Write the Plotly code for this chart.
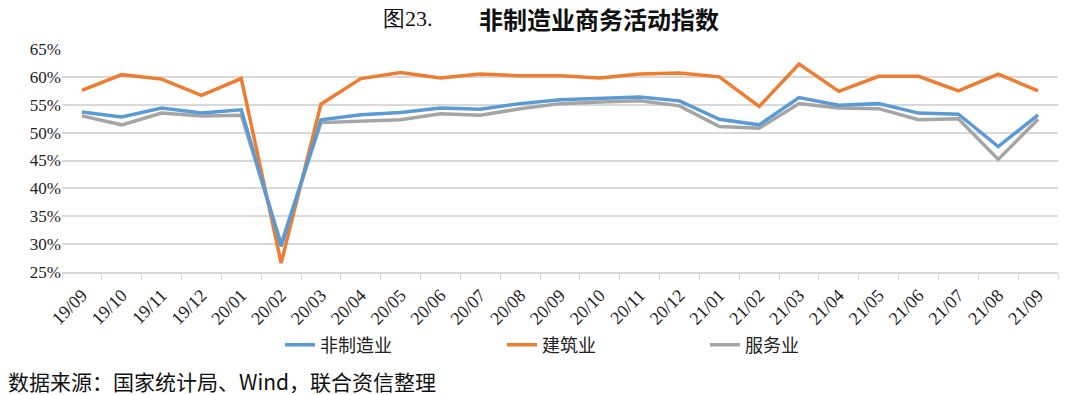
import plotly.graph_objects as go

months = ["19/09", "19/10", "19/11", "19/12", "20/01", "20/02", "20/03", "20/04", "20/05",
          "20/06", "20/07", "20/08", "20/09", "20/10", "20/11", "20/12", "21/01", "21/02",
          "21/03", "21/04", "21/05", "21/06", "21/07", "21/08", "21/09"]

non_manufacturing = [53.7, 52.8, 54.4, 53.5, 54.1, 29.6, 52.3, 53.2, 53.6, 54.4, 54.2, 55.2, 55.9,
                     56.2, 56.4, 55.7, 52.4, 51.4, 56.3, 54.9, 55.2, 53.5, 53.3, 47.5, 53.2]
construction = [57.6, 60.4, 59.6, 56.7, 59.7, 26.6, 55.1, 59.7, 60.8, 59.8, 60.5, 60.2, 60.2,
                59.8, 60.5, 60.7, 60.0, 54.7, 62.3, 57.4, 60.1, 60.1, 57.5, 60.5, 57.5]
services = [53.0, 51.4, 53.5, 53.0, 53.1, 30.1, 51.8, 52.1, 52.3, 53.4, 53.1, 54.3, 55.2,
            55.5, 55.7, 54.8, 51.1, 50.8, 55.2, 54.4, 54.3, 52.3, 52.5, 45.2, 52.4]

series_names = ["非制造业", "建筑业", "服务业"]
colors = ["#5B9BD5", "#ED7D31", "#A5A5A5"]
legend_ids = ["legend", "legend2", "legend3"]

fig = go.Figure()
order = [(2, services), (1, construction), (0, non_manufacturing)]
for idx, vals in order:
    fig.add_trace(go.Scatter(
        x=months, y=vals, mode="lines", name=series_names[idx],
        line=dict(color=colors[idx], width=3.5),
        legend=legend_ids[idx],
    ))

serif = "Liberation Serif"
cjk = "Noto Sans CJK SC"

L, R, T, B = 62, 22, 49, 123
pw, ph = 1080 - L - R, 395 - T - B

def px_x(x):
    return (x - L) / pw

def px_y(y):
    return 1 - (y - T) / ph

legend_x = [280, 502, 705]
legend_common = dict(orientation="h", yanchor="middle", xanchor="left",
                     y=px_y(345), font=dict(family=cjk, size=18, color="#222"),
                     bgcolor="rgba(0,0,0,0)")

fig.update_layout(
    width=1080, height=395,
    margin=dict(l=L, r=R, t=T, b=B, autoexpand=False),
    paper_bgcolor="white", plot_bgcolor="white",
    showlegend=True,
    legend=dict(x=px_x(legend_x[0]), **legend_common),
    legend2=dict(x=px_x(legend_x[1]), **legend_common),
    legend3=dict(x=px_x(legend_x[2]), **legend_common),
    xaxis=dict(type="category", tickangle=-45, tickson="boundaries",
               ticks="outside", ticklen=6, tickcolor="#d9d9d9",
               ticklabelstandoff=4,
               showline=True, linecolor="#d9d9d9", linewidth=1.5,
               showgrid=False, tickfont=dict(family=serif, size=18, color="#222"),
               range=[-0.5, 24.5]),
    yaxis=dict(range=[25, 65], dtick=5, tick0=25, ticksuffix="%",
               showgrid=True, gridcolor="#d9d9d9", gridwidth=1.5,
               zeroline=False, showline=False,
               tickfont=dict(family=serif, size=17, color="#222")),
    annotations=[
        dict(text="图23.", x=px_x(408), y=px_y(18), showarrow=False,
             xanchor="center", yanchor="middle",
             font=dict(family=serif, size=22, color="#111")),
        dict(text="<b>非制造业商务活动指数</b>", x=px_x(599), y=px_y(18), showarrow=False,
             xanchor="center", yanchor="middle",
             font=dict(family=cjk, size=24, color="#111")),
        dict(text="数据来源：国家统计局、Wind，联合资信整理", x=px_x(6), y=px_y(381),
             showarrow=False, xanchor="left", yanchor="middle",
             font=dict(family=cjk, size=21, color="#111")),
    ],
)
for a in fig.layout.annotations:
    a.xref = "paper"
    a.yref = "paper"

fig.write_html("out.html", config={"displayModeBar": False},
               post_script="document.body.style.margin='0';")
